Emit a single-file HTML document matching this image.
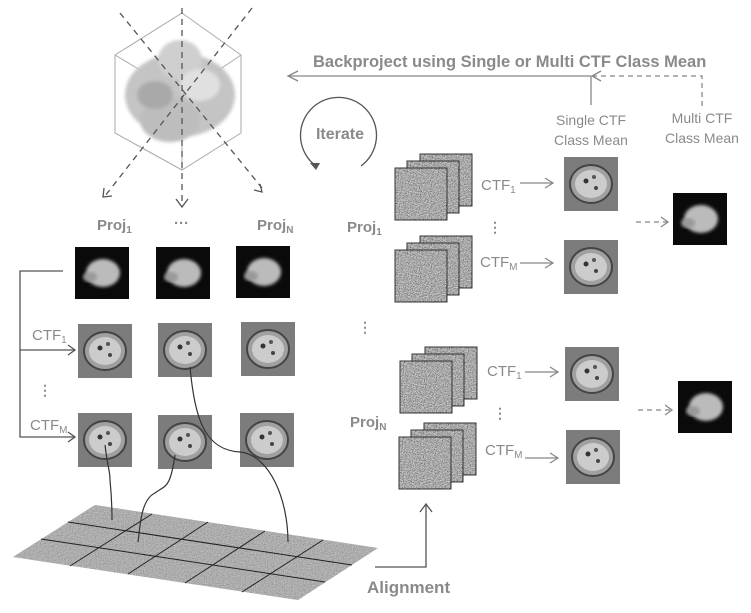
<!DOCTYPE html>
<html><head><meta charset="utf-8"><style>
html,body{margin:0;padding:0;background:#fff;}
svg{display:block;}
text{font-family:"Liberation Sans",sans-serif;fill:#8a8a8a;font-weight:bold;}
</style></head><body>
<svg width="751" height="613" viewBox="0 0 751 613" xmlns="http://www.w3.org/2000/svg">
<defs>
<filter id="noise" x="0" y="0" width="100%" height="100%">
<feTurbulence type="fractalNoise" baseFrequency="0.9" numOctaves="2" seed="3"/>
<feColorMatrix type="saturate" values="0"/>
<feComponentTransfer><feFuncR type="linear" slope="1.3" intercept="-0.25"/><feFuncG type="linear" slope="1.3" intercept="-0.25"/><feFuncB type="linear" slope="1.3" intercept="-0.25"/><feFuncA type="linear" slope="0" intercept="1"/></feComponentTransfer>
</filter>
<filter id="blur"><feGaussianBlur stdDeviation="1.5"/></filter>
<clipPath id="floorclip"><polygon points="13,557 95,505 378,548 298,600"/></clipPath>
<g id="noisy"><rect width="52" height="52" fill="#888" filter="url(#noise)"/><rect x="0" y="0" width="52" height="52" fill="none" stroke="#333" stroke-width="1"/></g>
<g id="cls"><rect width="54" height="54" fill="#7c7c7c"/><ellipse cx="27" cy="27" rx="21" ry="19" fill="#a0a0a0" stroke="#444" stroke-width="2"/><ellipse cx="27" cy="27" rx="16" ry="14" fill="#ccc"/><circle cx="22" cy="24" r="2.5" fill="#333"/><circle cx="32" cy="31" r="2" fill="#444"/><circle cx="30" cy="20" r="2" fill="#555"/></g>
<g id="blk"><rect width="54" height="52" fill="#0a0a0a"/><ellipse cx="28" cy="26" rx="17" ry="14" fill="#bbb" filter="url(#blur)"/><ellipse cx="15" cy="30" rx="7" ry="5" fill="#999" filter="url(#blur)"/></g>
<g id="stack"><use href="#noisy" x="25" y="-14"/><use href="#noisy" x="12" y="-7"/><use href="#noisy" x="0" y="0"/></g>
</defs>

<!-- cube -->
<polygon points="182,13 241,55 241,133 182,170 115,133 115,55" fill="none" stroke="#aaa" stroke-width="1"/>
<line x1="115" y1="55" x2="182" y2="95" stroke="#aaa"/><line x1="241" y1="55" x2="182" y2="95" stroke="#aaa"/><line x1="182" y1="95" x2="182" y2="170" stroke="#aaa"/>
<g filter="url(#blur)">
<ellipse cx="180" cy="95" rx="55" ry="42" fill="#c4c4c4"/>
<ellipse cx="180" cy="60" rx="22" ry="20" fill="#cfcfcf"/>
<ellipse cx="170" cy="120" rx="30" ry="22" fill="#bdbdbd"/>
<ellipse cx="200" cy="85" rx="20" ry="16" fill="#e0e0e0"/>
<ellipse cx="155" cy="95" rx="18" ry="14" fill="#a9a9a9"/>
</g>
<g stroke="#555" stroke-width="1.3" stroke-dasharray="6,5" fill="none">
<line x1="120" y1="13" x2="262" y2="188"/>
<line x1="252" y1="8" x2="105" y2="196"/>
<line x1="182" y1="8" x2="182" y2="205"/>
</g>
<g stroke="#555" stroke-width="1.3" fill="none">
<polyline points="104,188 103,197 112,196"/>
<polyline points="176,199 182,207 188,199"/>
<polyline points="254,190 262,192 260,184"/>
</g>
<text x="97" y="230" font-size="15">Proj<tspan font-size="10" dy="3">1</tspan></text>
<text x="174" y="228" font-size="15">···</text>
<text x="257" y="230" font-size="15">Proj<tspan font-size="10" dy="3">N</tspan></text>

<use href="#blk" x="75" y="247"/><use href="#blk" x="156" y="247"/><use href="#blk" x="236" y="246"/>
<use href="#cls" x="78" y="324"/><use href="#cls" x="158" y="323"/><use href="#cls" x="241" y="322"/>
<use href="#cls" x="78" y="413"/><use href="#cls" x="158" y="415"/><use href="#cls" x="240" y="413"/>

<g stroke="#555" stroke-width="1.3" fill="none">
<polyline points="63,271 20,271 20,437 74,437"/>
<line x1="20" y1="350" x2="74" y2="350"/>
<polyline points="68,345 75,350 68,355"/><polyline points="68,432 75,437 68,442"/>
</g>
<text x="32" y="340" font-size="15" style="font-weight:normal">CTF<tspan font-size="10" dy="3">1</tspan></text>
<text x="30" y="430" font-size="15" style="font-weight:normal">CTF<tspan font-size="10" dy="3">M</tspan></text>
<text x="38" y="395" font-size="14">⋮</text>

<!-- floor -->
<g clip-path="url(#floorclip)">
<rect x="0" y="500" width="390" height="105" fill="#999" filter="url(#noise)"/>
<rect x="0" y="500" width="390" height="105" fill="#b0b0b0" opacity="0.55"/>
</g>
<g stroke="#222" stroke-width="1">
<line x1="41" y1="539" x2="325" y2="582"/><line x1="68" y1="522" x2="352" y2="565"/>
<line x1="152" y1="514" x2="70" y2="566"/><line x1="208" y1="522" x2="128" y2="574"/><line x1="265" y1="531" x2="185" y2="583"/><line x1="323" y1="540" x2="242" y2="592"/>
</g>
<g stroke="#333" stroke-width="1.2" fill="none">
<path d="M105,445 C108,470 110,470 110,480 C112,500 112,510 112,520"/>
<path d="M175,455 C170,490 165,485 155,493 C140,500 140,530 138,542"/>
<path d="M190,367 C195,420 205,450 240,452 C270,455 288,500 288,542"/>
</g>
<g stroke="#555" stroke-width="1.3" fill="none">
<polyline points="375,567 426,567 426,505"/><polyline points="420,512 426,504 432,512"/>
</g>
<text x="367" y="593" font-size="17">Alignment</text>

<!-- top right -->
<text x="313" y="67" font-size="16.5">Backproject using Single or Multi CTF Class Mean</text>
<g stroke="#888" stroke-width="1.3" fill="none">
<line x1="288" y1="76" x2="591" y2="76"/><polyline points="298,71 288,76 298,81"/>
<line x1="591" y1="76" x2="591" y2="105"/>
<polyline points="592,76 702,76 702,110" stroke-dasharray="5,4"/>
<polyline points="601,71 592,76 601,81"/>
</g>
<text x="591" y="125" font-size="14" text-anchor="middle" style="font-weight:normal">Single CTF</text>
<text x="591" y="145" font-size="14" text-anchor="middle" style="font-weight:normal">Class Mean</text>
<text x="702" y="123" font-size="14" text-anchor="middle" style="font-weight:normal">Multi CTF</text>
<text x="702" y="143" font-size="14" text-anchor="middle" style="font-weight:normal">Class Mean</text>

<path d="M316,166 A38,38 0 1,1 361,166" stroke="#555" stroke-width="1.3" fill="none"/>
<polygon points="310,163 320,163 316,170" fill="#555"/>
<text x="340" y="139" font-size="16" text-anchor="middle">Iterate</text>

<use href="#stack" x="395" y="168"/>
<use href="#stack" x="395" y="250"/>
<text x="347" y="232" font-size="15">Proj<tspan font-size="10" dy="3">1</tspan></text>
<text x="481" y="190" font-size="15" style="font-weight:normal">CTF<tspan font-size="10" dy="3">1</tspan></text>
<text x="480" y="267" font-size="15" style="font-weight:normal">CTF<tspan font-size="10" dy="3">M</tspan></text>
<text x="488" y="232" font-size="14">⋮</text>
<text x="358" y="332" font-size="14">⋮</text>
<use href="#cls" x="564" y="157"/><use href="#cls" x="564" y="240"/>
<use href="#blk" x="673" y="193"/>

<use href="#stack" x="400" y="361"/>
<use href="#stack" x="399" y="437"/>
<text x="350" y="427" font-size="15">Proj<tspan font-size="10" dy="3">N</tspan></text>
<text x="487" y="376" font-size="15" style="font-weight:normal">CTF<tspan font-size="10" dy="3">1</tspan></text>
<text x="485" y="455" font-size="15" style="font-weight:normal">CTF<tspan font-size="10" dy="3">M</tspan></text>
<text x="493" y="418" font-size="14">⋮</text>
<use href="#cls" x="565" y="347"/><use href="#cls" x="566" y="430"/>
<use href="#blk" x="678" y="381"/>

<g stroke="#888" stroke-width="1.3" fill="none">
<line x1="520" y1="183" x2="553" y2="183"/><polyline points="545,178 553,183 545,188"/>
<line x1="520" y1="263" x2="553" y2="263"/><polyline points="545,258 553,263 545,268"/>
<line x1="525" y1="372" x2="558" y2="372"/><polyline points="550,367 558,372 550,377"/>
<line x1="525" y1="458" x2="558" y2="458"/><polyline points="550,453 558,458 550,463"/>
<line x1="636" y1="222" x2="667" y2="222" stroke-dasharray="5,4"/><polyline points="661,217 668,222 661,227"/>
<line x1="638" y1="410" x2="671" y2="410" stroke-dasharray="5,4"/><polyline points="665,405 672,410 665,415"/>
</g>
</svg>
</body></html>
